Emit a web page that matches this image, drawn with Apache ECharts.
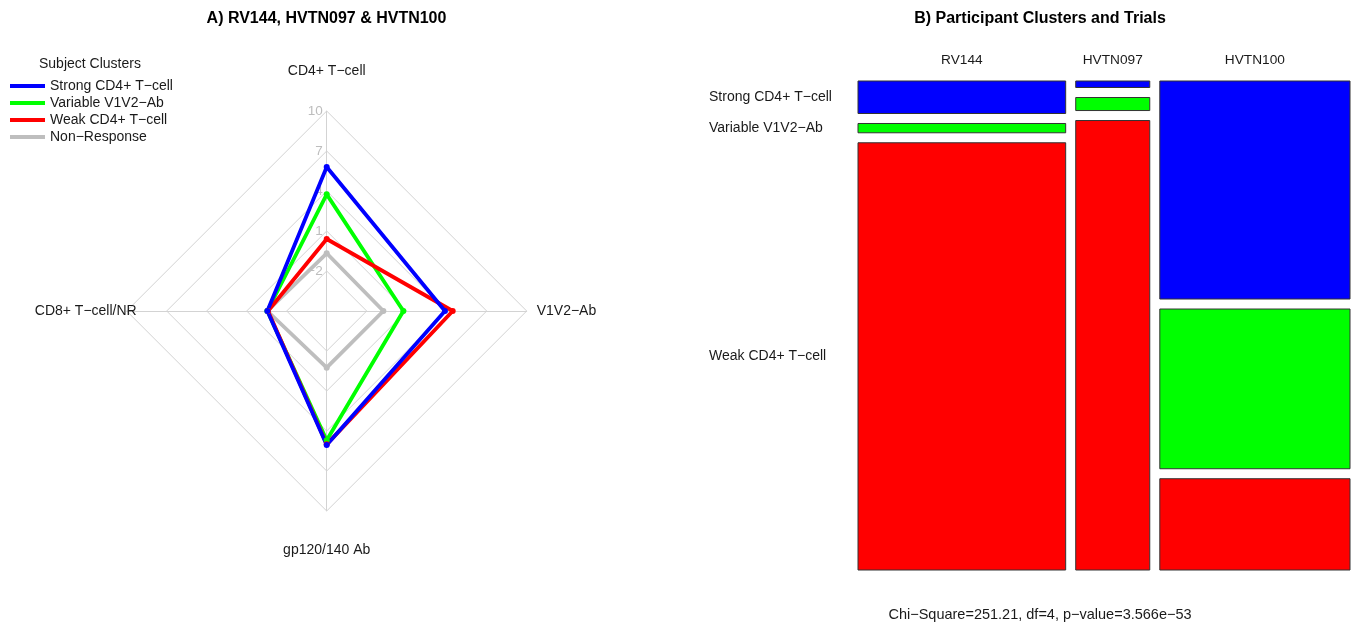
<!DOCTYPE html>
<html>
<head>
<meta charset="utf-8">
<title>Participant clusters</title>
<script src="https://cdn.jsdelivr.net/npm/echarts@6/dist/echarts.min.js"></script>
<style>
  html, body { margin: 0; padding: 0; background: #ffffff; }
  #chart { width: 1352px; height: 623px; }
</style>
</head>
<body>
<div id="chart"></div>
<script>
// ---- Panel A: mean scores of each subject cluster on four response axes ----
const clusterNames = ['Strong CD4+ T\u2212cell', 'Variable V1V2\u2212Ab', 'Weak CD4+ T\u2212cell', 'Non\u2212Response'];
const radarAxes = ['CD4+ T\u2212cell', 'CD8+ T\u2212cell/NR', 'gp120/140 Ab', 'V1V2\u2212Ab'];
const radarMin = -5;
const radarMax = 10;
const strongScores = [5.8, -0.55, 5.05, 3.87];
const variableScores = [3.75, -0.55, 4.7, 0.75];
const weakScores = [0.4, -0.6, 5.0, 4.45];
const nonResponseScores = [-0.67, -0.55, -0.75, -0.75];

// ---- Panel B: participants per trial and cluster ----
const trials = ['RV144', 'HVTN097', 'HVTN100'];
const mosaicRows = ['Strong CD4+ T\u2212cell', 'Variable V1V2\u2212Ab', 'Weak CD4+ T\u2212cell'];
const rv144Counts = [14, 4, 184];
const hvtn097Counts = [1, 2, 69];
const hvtn100Counts = [86, 63, 36];
const chiSquareText = 'Chi\u2212Square=251.21, df=4, p\u2212value=3.566e\u221253';

const FONT = '"Liberation Sans", Arial, Helvetica, sans-serif';
const colors = {
  'Strong CD4+ T\u2212cell': '#0000FF',
  'Variable V1V2\u2212Ab': '#00FF00',
  'Weak CD4+ T\u2212cell': '#FF0000',
  'Non\u2212Response': '#BEBEBE'
};

// name offsets of the four radar axes (top, left, bottom, right)
const nameGaps = [33, -10, 32, 10];

const indicators = radarAxes.map(function (name, i) {
  const ind = { name: name, min: radarMin, max: radarMax, nameGap: nameGaps[i] };
  if (i === 0) ind.axisLabel = { show: true };
  return ind;
});

function radarSeries(name, values) {
  const c = colors[name];
  return {
    type: 'radar',
    name: name,
    symbol: 'circle',
    symbolSize: 6,
    silent: true,
    lineStyle: { color: c, width: 3.8 },
    itemStyle: { color: c },
    data: [{ name: name, value: values }]
  };
}

// ---- mosaic geometry built from the counts ----
const countTable = [rv144Counts, hvtn097Counts, hvtn100Counts];
const gap = 0.0213;
const grand = countTable.reduce(function (s, col) { return s + col.reduce(function (a, b) { return a + b; }, 0); }, 0);
const mosaicCells = [];
const headerItems = [];
const rowLabelItems = [];
let xCursor = 0;
countTable.forEach(function (col, i) {
  const colTotal = col.reduce(function (a, b) { return a + b; }, 0);
  const w = colTotal / grand;
  const x0 = xCursor;
  const x1 = x0 + w;
  headerItems.push([(x0 + x1) / 2, 0, trials[i]]);
  let yCursor = 0;
  col.forEach(function (n, j) {
    const h = n / colTotal;
    mosaicCells.push([x0, x1, yCursor, yCursor + h, j]);
    if (i === 0) rowLabelItems.push([0, yCursor + h / 2, mosaicRows[j]]);
    yCursor += h + gap;
  });
  xCursor = x1 + gap;
});
const mosaicExtent = 1 + 2 * gap;

const chart = echarts.init(document.getElementById('chart'), null, { renderer: 'canvas' });

const option = {
  backgroundColor: '#ffffff',
  animation: false,
  textStyle: { fontFamily: FONT },
  title: [
    { text: 'A) RV144, HVTN097 & HVTN100', left: 326.5, top: 11, padding: 0, textAlign: 'center',
      textStyle: { fontFamily: FONT, fontSize: 16, fontWeight: 'bold', color: '#000' } },
    { text: 'B) Participant Clusters and Trials', left: 1040, top: 11, padding: 0, textAlign: 'center',
      textStyle: { fontFamily: FONT, fontSize: 16, fontWeight: 'bold', color: '#000' } },
    { text: 'Subject Clusters', left: 39, top: 57, padding: 0,
      textStyle: { fontFamily: FONT, fontSize: 14, fontWeight: 'normal', color: '#1a1a1a' } },
    { text: chiSquareText, left: 1040, top: 607, padding: 0, textAlign: 'center',
      textStyle: { fontFamily: FONT, fontSize: 14.5, fontWeight: 'normal', color: '#1a1a1a' } }
  ],
  legend: {
    orient: 'vertical',
    left: 10,
    top: 79,
    padding: 0,
    itemWidth: 35,
    itemHeight: 4,
    itemGap: 3,
    icon: 'rect',
    selectedMode: false,
    data: clusterNames,
    textStyle: { fontFamily: FONT, fontSize: 14, color: '#1a1a1a' }
  },
  radar: {
    center: [326.7, 311],
    radius: 200,
    startAngle: 90,
    splitNumber: 5,
    shape: 'polygon',
    indicator: indicators,
    axisName: { color: '#1a1a1a', fontSize: 14, fontFamily: FONT },
    splitLine: { lineStyle: { color: '#d3d3d3', width: 1 } },
    splitArea: { show: false },
    axisLine: { lineStyle: { color: '#d3d3d3', width: 1 } },
    axisTick: { show: false },
    axisLabel: {
      show: false,
      color: '#bdbdbd',
      fontSize: 13.5,
      fontFamily: FONT,
      margin: 4,
      showMinLabel: false,
      formatter: function (v) { return String(v).replace('-', '\u2212'); }
    }
  },
  grid: { left: 858, right: 2, top: 81, bottom: 53, containLabel: false },
  xAxis: { type: 'value', min: 0, max: mosaicExtent, show: false },
  yAxis: { type: 'value', min: 0, max: mosaicExtent, inverse: true, show: false },
  series: [
    radarSeries('Non\u2212Response', nonResponseScores),
    radarSeries('Variable V1V2\u2212Ab', variableScores),
    radarSeries('Weak CD4+ T\u2212cell', weakScores),
    radarSeries('Strong CD4+ T\u2212cell', strongScores),
    {
      type: 'custom',
      name: 'mosaic',
      silent: true,
      data: mosaicCells,
      encode: { x: [0, 1], y: [2, 3] },
      renderItem: function (params, api) {
        const p0 = api.coord([api.value(0), api.value(2)]);
        const p1 = api.coord([api.value(1), api.value(3)]);
        const fill = colors[mosaicRows[api.value(4)]];
        return {
          type: 'rect',
          shape: { x: p0[0], y: p0[1], width: p1[0] - p0[0], height: p1[1] - p0[1] },
          style: { fill: fill, stroke: '#333333', lineWidth: 1 }
        };
      }
    },
    {
      type: 'custom',
      name: 'trialHeaders',
      silent: true,
      data: headerItems,
      encode: { x: 0, y: 1 },
      renderItem: function (params, api) {
        const p = api.coord([api.value(0), api.value(1)]);
        return {
          type: 'text',
          x: p[0], y: p[1] - 21,
          style: { text: headerItems[params.dataIndex][2], fill: '#1a1a1a',
            font: '13.7px ' + FONT, align: 'center', verticalAlign: 'middle' }
        };
      }
    },
    {
      type: 'custom',
      name: 'rowLabels',
      silent: true,
      data: rowLabelItems,
      encode: { x: 0, y: 1 },
      renderItem: function (params, api) {
        const p = api.coord([api.value(0), api.value(1)]);
        return {
          type: 'text',
          x: p[0] - 149, y: p[1],
          style: { text: rowLabelItems[params.dataIndex][2], fill: '#1a1a1a',
            font: '14px ' + FONT, align: 'left', verticalAlign: 'middle' }
        };
      }
    }
  ]
};

chart.setOption(option);
</script>
</body>
</html>
